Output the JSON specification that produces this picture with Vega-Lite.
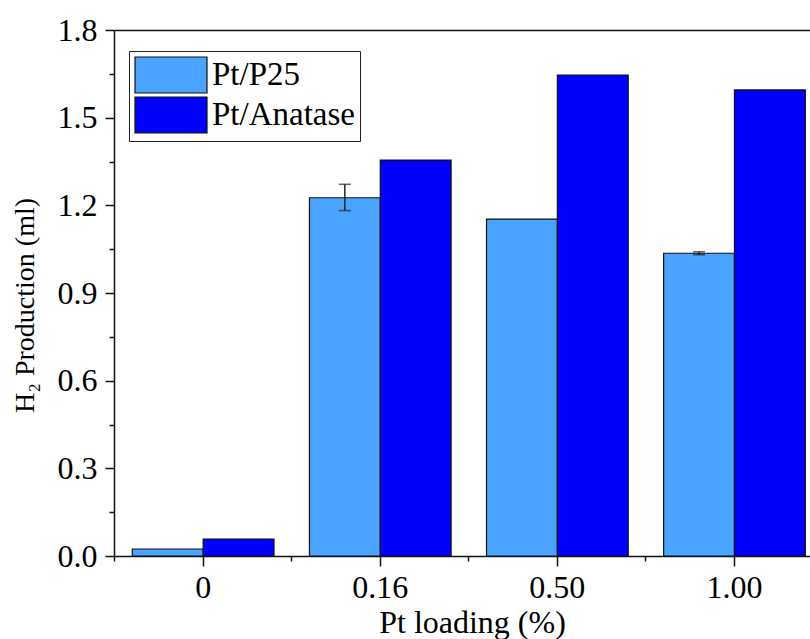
{
  "$schema": "https://vega.github.io/schema/vega-lite/v6.json",
  "width": 696,
  "height": 526,
  "autosize": {"type": "none"},
  "padding": {"left": 114, "top": 30, "right": 0, "bottom": 83},
  "background": "white",
  "config": {
    "view": {"stroke": null},
    "font": "Liberation Serif",
    "axis": {
      "domainColor": "#111111",
      "domainWidth": 1.5,
      "tickColor": "#111111",
      "tickWidth": 1.5,
      "labelColor": "#000000",
      "titleColor": "#000000",
      "labelFont": "Liberation Serif",
      "titleFont": "Liberation Serif",
      "labelFontSize": 32,
      "titleFontWeight": "normal",
      "grid": false
    }
  },
  "data": {
    "values": [
      {"loading": "0", "series": "Pt/P25", "value": 0.024},
      {"loading": "0", "series": "Pt/Anatase", "value": 0.058},
      {"loading": "0.16", "series": "Pt/P25", "value": 1.226, "lo": 1.182, "hi": 1.272},
      {"loading": "0.16", "series": "Pt/Anatase", "value": 1.355},
      {"loading": "0.50", "series": "Pt/P25", "value": 1.153},
      {"loading": "0.50", "series": "Pt/Anatase", "value": 1.646},
      {"loading": "1.00", "series": "Pt/P25", "value": 1.036, "lo": 1.031, "hi": 1.041},
      {"loading": "1.00", "series": "Pt/Anatase", "value": 1.595}
    ]
  },
  "layer": [
    {
      "mark": {"type": "bar", "stroke": "#111111", "strokeWidth": 1.2},
      "encoding": {
        "x": {
          "field": "loading", "type": "nominal", "sort": null,
          "scale": {"paddingInner": 0.2, "paddingOuter": 0.065, "align": 0.796},
          "axis": {
            "orient": "bottom", "labelAngle": 0, "tickSize": 10,
            "labelPadding": 31, "labelBaseline": "alphabetic",
            "title": "Pt loading (%)", "titleFontSize": 32,
            "titleX": 358, "titleY": 76, "titleBaseline": "alphabetic", "titleAlign": "center"
          }
        },
        "xOffset": {
          "field": "series", "type": "nominal", "sort": ["Pt/P25", "Pt/Anatase"],
          "scale": {"paddingInner": 0, "paddingOuter": 0}
        },
        "y": {
          "field": "value", "type": "quantitative",
          "scale": {"domain": [0, 1.8], "nice": false},
          "axis": {
            "orient": "left",
            "values": [0, 0.3, 0.6, 0.9, 1.2, 1.5, 1.8], "format": ".1f",
            "tickSize": 9, "labelPadding": 8,
            "title": "H₂ Production (ml)", "titleFontSize": 28,
            "titleX": -89, "titleY": 275, "titleAngle": -90,
            "titleAlign": "center", "titleBaseline": "middle"
          }
        },
        "color": {
          "field": "series", "type": "nominal", "sort": ["Pt/P25", "Pt/Anatase"],
          "scale": {"domain": ["Pt/P25", "Pt/Anatase"], "range": ["#4AA3FF", "#0000FF"]},
          "legend": {
            "title": null,
            "orient": "none", "legendX": 15, "legendY": 21,
            "strokeColor": "#222222", "padding": 5,
            "symbolType": "M-1,-1H3V1H-1Z", "symbolSize": 1296,
            "symbolStrokeColor": "#111111", "symbolStrokeWidth": 1.2,
            "symbolOpacity": 1,
            "labelFont": "Liberation Serif", "labelFontSize": 33,
            "labelColor": "#000000", "labelOffset": 40,
            "rowPadding": -2
          }
        }
      }
    },
    {
      "transform": [{"filter": "isValid(datum.hi)"}],
      "mark": {"type": "rule", "stroke": "#222222", "strokeWidth": 1.5},
      "encoding": {
        "x": {
          "field": "loading", "type": "nominal", "sort": null,
          "axis": {"orient": "bottom", "bandPosition": -0.125, "tickSize": 5, "labels": false, "domain": false, "title": null}
        },
        "xOffset": {"field": "series", "type": "nominal", "sort": ["Pt/P25", "Pt/Anatase"]},
        "y": {
          "field": "lo", "type": "quantitative",
          "axis": {"orient": "left", "values": [0.15, 0.45, 0.75, 1.05, 1.35, 1.65], "tickSize": 5, "labels": false, "domain": false, "title": null}
        },
        "y2": {"field": "hi"}
      }
    },
    {
      "transform": [{"filter": "isValid(datum.hi)"}],
      "mark": {"type": "tick", "color": "#222222", "size": 12, "thickness": 1.5},
      "encoding": {
        "x": {
          "field": "loading", "type": "nominal", "sort": null,
          "axis": {"orient": "top", "ticks": false, "labels": false, "domain": true, "title": null}
        },
        "xOffset": {"field": "series", "type": "nominal", "sort": ["Pt/P25", "Pt/Anatase"]},
        "y": {"field": "hi", "type": "quantitative", "axis": null}
      }
    },
    {
      "transform": [{"filter": "isValid(datum.lo)"}],
      "mark": {"type": "tick", "color": "#222222", "size": 12, "thickness": 1.5},
      "encoding": {
        "x": {"field": "loading", "type": "nominal", "sort": null, "axis": null},
        "xOffset": {"field": "series", "type": "nominal", "sort": ["Pt/P25", "Pt/Anatase"]},
        "y": {"field": "lo", "type": "quantitative", "axis": null}
      }
    }
  ],
  "resolve": {"axis": {"x": "independent", "y": "independent"}}
}
